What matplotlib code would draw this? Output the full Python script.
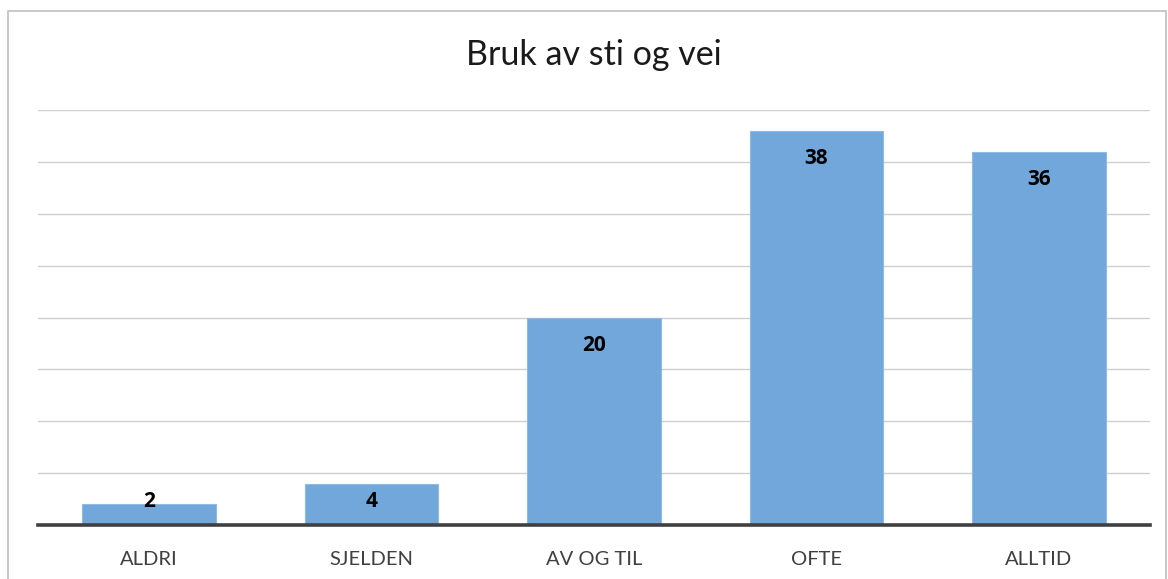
import matplotlib
matplotlib.use("Agg")
import matplotlib.pyplot as plt
from matplotlib.patches import Rectangle

categories = ["ALDRI", "SJELDEN", "AV OG TIL", "OFTE", "ALLTID"]
values = [2, 4, 20, 38, 36]
title = "Bruk av sti og vei"

plt.rcParams['font.family'] = ['Lato', 'DejaVu Sans']

W, H = 1168, 579
fig = plt.figure(figsize=(W / 100, H / 100), dpi=100)

# outer border
fig.patches.append(Rectangle((8 / W, -0.01), (1166 - 8) / W, 1 - 11 / H + 0.01,
                             transform=fig.transFigure, fill=False,
                             edgecolor='#bfbfbf', linewidth=1.2))

ax = fig.add_axes([38 / W, 1 - 525 / H, (1150 - 38) / W, (525 - 110) / H])
x = range(len(categories))
ax.bar(x, values, width=0.6, color='#71a7da', edgecolor='#8dbbe4', linewidth=0.8, zorder=2)
ax.set_xlim(-0.5, len(categories) - 0.5)
ax.set_ylim(0, 40)
ax.set_yticks(range(0, 41, 5))
ax.yaxis.grid(True, color='#cfcfcf', linewidth=1.0, zorder=0)
ax.set_axisbelow(True)
ax.tick_params(axis='y', left=False, labelleft=False)
ax.tick_params(axis='x', bottom=False, labelsize=14.5, colors='#404040', pad=15)
ax.set_xticks(list(x))
ax.set_xticklabels(categories)
for s in ['top', 'right', 'left']:
    ax.spines[s].set_visible(False)
ax.spines['bottom'].set_color('#404040')
ax.spines['bottom'].set_linewidth(2.6)
ax.spines['bottom'].set_zorder(3)

for xi, v in zip(x, values):
    ax.text(xi, max(v - 2.7, 2.3), str(v), ha='center', va='center',
            fontsize=15, fontweight='bold', color='black', zorder=4,
            family=['Open Sans', 'DejaVu Sans'])

fig.text(594 / W, 1 - 55 / H, title, ha='center', va='center', fontsize=24.5, color='#1a1a1a')

fig.savefig('out.png', dpi=100)
